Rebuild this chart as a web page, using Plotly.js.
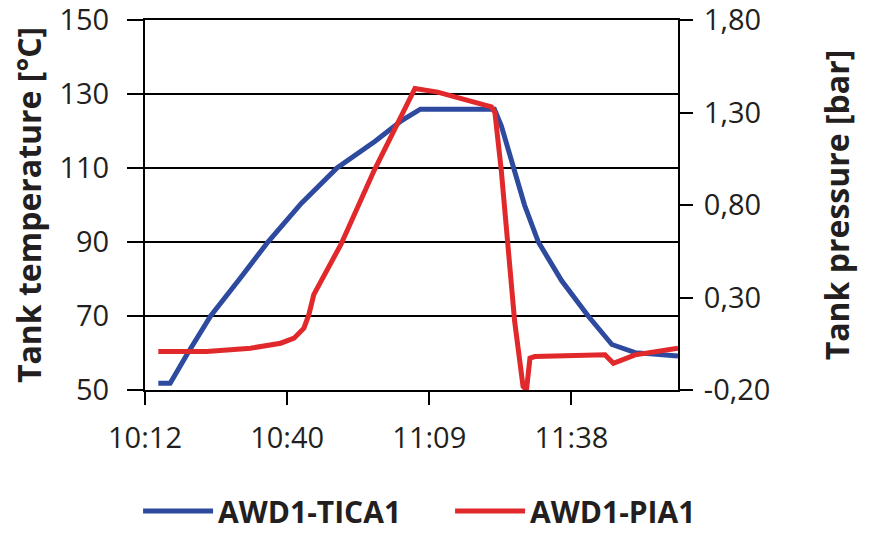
<!DOCTYPE html>
<html>
<head>
<meta charset="utf-8">
<script src="https://cdn.plot.ly/plotly-3.0.1.min.js"></script>
<style>html,body{margin:0;padding:0;background:#fff;}#chart{width:875px;height:533px;}</style>
</head>
<body>
<div id="chart"></div>
<script>
var day = '2024-01-01 ';
var tempTimes = ['10:14:42','10:17:06','10:20:30','10:25:18','10:31:24','10:36:54','10:43:42','10:50:54','10:58:42','11:04:00','11:07:48','11:22:48','11:24:12','11:26:36','11:28:54','11:31:42','11:36:24','11:41:48','11:46:36','11:51:18','12:00:00'];
var tempValues = [51.8,51.8,59.6,70,80.4,90,100.5,110,117.3,122.8,125.9,125.9,121.4,110,100,90,79.6,70,62.3,60.1,59.2];
var pressTimes = ['10:14:42','10:24:30','10:33:24','10:39:30','10:42:12','10:44:12','10:45:12','10:46:12','10:51:42','10:58:24','11:06:42','11:11:18','11:22:12','11:22:54','11:24:12','11:26:54','11:28:36','11:29:18','11:30:00','11:31:00','11:45:12','11:46:54','11:51:18','12:00:00'];
var pressValues = [0.008,0.008,0.026,0.053,0.08,0.134,0.207,0.316,0.587,0.985,1.43,1.41,1.33,1.30,0.985,0.171,-0.18,-0.2,-0.028,-0.019,-0.01,-0.056,-0.01,0.026];
var xTickVals = ['10:12:00','10:40:48','11:09:36','11:38:24'];
var xTickText = ['10:12','10:40','11:09','11:38'];
var tempTicks = [50,70,90,110,130,150];
var pressTickVals = [-0.2,0.3,0.8,1.3,1.8];
var pressTickText = ['-0,20','0,30','0,80','1,30','1,80'];
var seriesNames = ['AWD1-TICA1','AWD1-PIA1'];

var blue = '#2d4a9f', red = '#e1282b', ink = '#231f20';
var fam = 'Open Sans, Noto Sans, sans-serif';
function withDay(a){return a.map(function(t){return day+t;});}

var traces = [
  {x: withDay(tempTimes), y: tempValues, type:'scatter', mode:'lines', name: seriesNames[0],
   line:{color:blue, width:5}, yaxis:'y'},
  {x: withDay(pressTimes), y: pressValues, type:'scatter', mode:'lines', name: seriesNames[1],
   line:{color:red, width:5}, yaxis:'y2'}
];

var layout = {
  width:875, height:533,
  margin:{l:145, r:197, t:20, b:143, autoexpand:false},
  paper_bgcolor:'#fff', plot_bgcolor:'#fff',
  showlegend:true,
  legend:{orientation:'h', x:-0.013, xanchor:'left', y:-0.327, yanchor:'middle',
    itemwidth:70, entrywidth:227, font:{size:30, family:fam, color:ink, weight:'bold'}, bgcolor:'rgba(0,0,0,0)'},
  font:{family:fam, color:ink, size:29},
  xaxis:{type:'date', range:[day+'10:12:00', day+'12:00:00'],
    tickvals: withDay(xTickVals), ticktext: xTickText,
    showgrid:false, zeroline:false, showline:true, linecolor:'#000', linewidth:2, mirror:true,
    ticks:'outside', ticklen:13, tickwidth:2, tickcolor:'#000', ticklabelstandoff:8, ticklabeloverflow:'allow',
    tickfont:{size:29, family:fam, color:ink}},
  yaxis:{range:[50,150], tickvals: tempTicks, showgrid:true, gridcolor:'#000', gridwidth:2,
    zeroline:false, showline:true, linecolor:'#000', linewidth:2,
    ticks:'outside', ticklen:16, tickwidth:2, tickcolor:'#000', ticklabelstandoff:12, ticklabeloverflow:'allow',
    tickfont:{size:29, family:fam, color:ink},
    title:{text:'Tank temperature [°C]', standoff:8, font:{size:32, family:fam, color:ink, weight:'bold'}}},
  yaxis2:{range:[-0.2,1.8], tickvals: pressTickVals, ticktext: pressTickText, overlaying:'y', side:'right',
    showgrid:false, zeroline:false, showline:true, linecolor:'#000', linewidth:2,
    ticks:'outside', ticklen:13, tickwidth:2, tickcolor:'#000', ticklabelstandoff:5, ticklabeloverflow:'allow',
    tickfont:{size:29, family:fam, color:ink},
    title:{text:'Tank pressure [bar]', standoff:57, font:{size:32, family:fam, color:ink, weight:'bold'}}}
};
Plotly.newPlot('chart', traces, layout, {displayModeBar:false, staticPlot:true});
</script>
</body>
</html>
